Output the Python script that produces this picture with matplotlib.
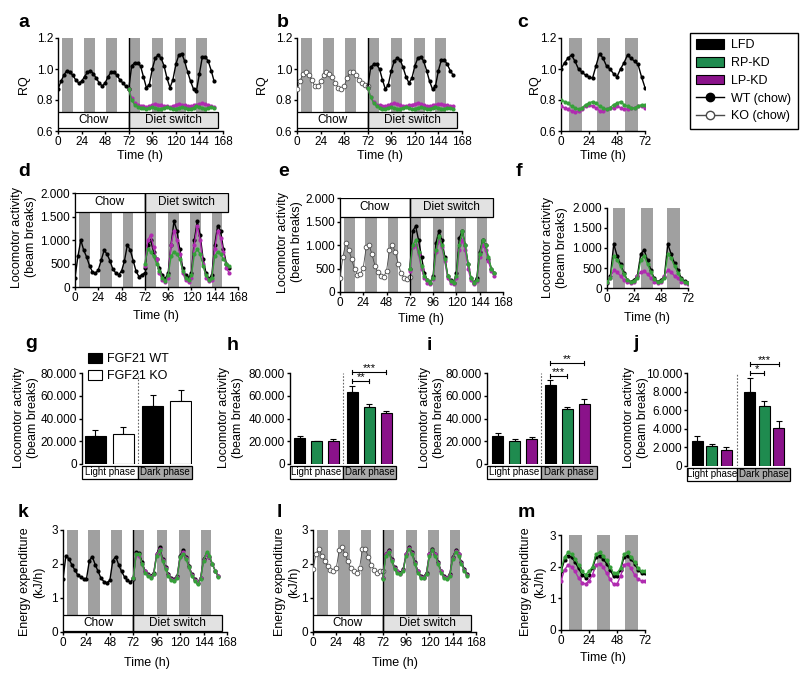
import matplotlib
matplotlib.use("Agg")
import matplotlib.pyplot as plt
from matplotlib.patches import Rectangle, Patch
from matplotlib.lines import Line2D
from matplotlib import font_manager as fm

plt.rcParams['font.family'] = ['Liberation Sans', 'DejaVu Sans']
plt.rcParams['font.size'] = 8.5
_names = {f.name for f in fm.fontManager.ttflist}
NARROW = 'Liberation Sans Narrow' if 'Liberation Sans Narrow' in _names else 'Liberation Sans'

# ------------------------------------------------------------------ data
t_chow = list(range(0, 73, 3))      # 0..72 h
t_diet = list(range(72, 160, 3))    # 72..159 h
t_72 = list(range(0, 73, 3))        # 0..72 h

dark168_start = [4, 26, 49, 72, 96, 119, 141]
dark168_end = [15, 38, 60, 83, 107, 130, 152]
dark72_start = [7, 31, 55]
dark72_end = [18, 42, 66]
darkf_start = [5, 30, 53]
darkf_end = [16, 41, 65]

rq_ticks = [0.6, 0.8, 1.0, 1.2]
rq_labels = ['0.6', '0.8', '1.0', '1.2']
loco_ticks = [0, 500, 1000, 1500, 2000]
loco_labels = ['0', '500', '1.000', '1.500', '2.000']
ee_ticks = [0, 1, 2, 3]
ee_labels = ['0', '1', '2', '3']
bar_ticks = [0, 20000, 40000, 60000, 80000]
bar_labels = ['0', '20.000', '40.000', '60.000', '80.000']
barj_ticks = [0, 2000, 4000, 6000, 8000, 10000]
barj_labels = ['0', '2.000', '4.000', '6.000', '8.000', '10.000']
time168_ticks = [0, 24, 48, 72, 96, 120, 144, 168]
time72_ticks = [0, 24, 48, 72]

# panel a (RQ, WT)
a_wt_chow = [0.87, 0.92, 0.96, 0.99, 0.98, 0.96, 0.93, 0.91, 0.92, 0.95, 0.98, 0.99, 0.97,
             0.94, 0.91, 0.89, 0.91, 0.95, 0.98, 0.98, 0.96, 0.93, 0.91, 0.89, 0.87]
a_lfd = [0.87, 1.02, 1.04, 1.04, 1.02, 0.95, 0.88, 0.90, 1.00, 1.07, 1.09, 1.07, 1.02, 0.94, 0.88,
         0.93, 1.03, 1.09, 1.10, 1.05, 0.98, 0.92, 0.87, 0.86, 0.97, 1.08, 1.08, 1.05, 0.99, 0.92]
a_rp = [0.87, 0.80, 0.77, 0.755, 0.75, 0.75, 0.745, 0.75, 0.755, 0.75, 0.745, 0.745, 0.75, 0.755, 0.75,
        0.745, 0.745, 0.75, 0.755, 0.75, 0.745, 0.745, 0.75, 0.76, 0.755, 0.75, 0.745, 0.75, 0.755, 0.75]
a_lp = [0.87, 0.81, 0.78, 0.765, 0.76, 0.76, 0.755, 0.76, 0.77, 0.775, 0.77, 0.765, 0.76, 0.76, 0.755,
        0.76, 0.77, 0.775, 0.77, 0.765, 0.76, 0.76, 0.765, 0.77, 0.775, 0.78, 0.775, 0.765, 0.76, 0.755]

# panel b (RQ, KO)
b_ko_chow = [0.87, 0.92, 0.97, 0.98, 0.96, 0.93, 0.89, 0.89, 0.92, 0.96, 0.98, 0.97, 0.95,
             0.91, 0.88, 0.87, 0.89, 0.94, 0.98, 0.98, 0.96, 0.93, 0.91, 0.90, 0.89]
b_lfd = [0.88, 1.01, 1.03, 1.03, 1.00, 0.93, 0.87, 0.90, 0.99, 1.05, 1.07, 1.06, 1.01, 0.95, 0.91,
         0.94, 1.02, 1.07, 1.08, 1.05, 0.99, 0.92, 0.87, 0.89, 0.99, 1.06, 1.06, 1.03, 0.99, 0.96]
b_rp = [0.88, 0.82, 0.78, 0.76, 0.75, 0.745, 0.745, 0.75, 0.755, 0.75, 0.745, 0.745, 0.75, 0.755, 0.75,
        0.745, 0.745, 0.75, 0.755, 0.75, 0.745, 0.745, 0.75, 0.755, 0.75, 0.745, 0.745, 0.75, 0.75, 0.745]
b_lp = [0.88, 0.82, 0.79, 0.77, 0.765, 0.76, 0.76, 0.765, 0.775, 0.78, 0.775, 0.765, 0.76, 0.76, 0.765,
        0.77, 0.775, 0.78, 0.775, 0.765, 0.76, 0.76, 0.765, 0.77, 0.775, 0.775, 0.77, 0.765, 0.76, 0.76]

# panel c (RQ, 72 h)
c_lfd = [1.00, 1.04, 1.07, 1.09, 1.05, 1.00, 0.98, 0.96, 0.95, 0.94, 1.02, 1.10, 1.07,
         1.02, 1.00, 0.97, 0.95, 1.00, 1.04, 1.09, 1.07, 1.05, 1.03, 0.95, 0.88]
c_rp = [0.80, 0.79, 0.78, 0.76, 0.75, 0.74, 0.75, 0.77, 0.78, 0.79, 0.78, 0.76, 0.75,
        0.74, 0.75, 0.77, 0.78, 0.79, 0.77, 0.76, 0.75, 0.75, 0.76, 0.77, 0.77]
c_lp = [0.76, 0.75, 0.74, 0.73, 0.72, 0.73, 0.74, 0.76, 0.77, 0.76, 0.75, 0.73, 0.73,
        0.74, 0.75, 0.75, 0.76, 0.75, 0.74, 0.74, 0.75, 0.75, 0.76, 0.76, 0.75]

# panel d (locomotor, WT)
d_wt_chow = [200, 650, 1000, 780, 640, 450, 320, 290, 360, 570, 780, 700, 560,
             380, 300, 260, 340, 560, 900, 780, 560, 330, 220, 260, 300]
d_lfd = [400, 900, 1000, 750, 600, 400, 250, 180, 300, 900, 1400, 1200, 800, 400, 250,
         200, 300, 1000, 1400, 1100, 600, 300, 180, 250, 900, 1300, 1200, 800, 500, 400]
d_rp = [500, 800, 750, 650, 500, 350, 200, 130, 250, 650, 750, 700, 600, 350, 200,
        150, 250, 700, 800, 700, 450, 250, 150, 200, 650, 750, 700, 600, 500, 450]
d_lp = [450, 1000, 1100, 850, 600, 300, 150, 100, 200, 900, 1200, 1000, 700, 300, 150,
        100, 200, 900, 1300, 1000, 500, 200, 120, 150, 800, 1200, 1050, 750, 400, 300]

# panel e (locomotor, KO)
e_ko_chow = [300, 750, 1050, 900, 700, 480, 370, 380, 520, 950, 1000, 800, 560,
             420, 330, 320, 450, 900, 1000, 850, 600, 400, 300, 280, 320]
e_lfd = [500, 1300, 1400, 1100, 750, 400, 250, 200, 350, 1050, 1300, 1100, 750, 350, 250,
         200, 400, 1150, 1300, 1000, 600, 300, 200, 300, 850, 1100, 1000, 700, 500, 400]
e_rp = [500, 1000, 1100, 850, 550, 350, 250, 200, 300, 900, 1200, 1000, 700, 350, 230,
        200, 350, 1000, 1300, 1000, 600, 300, 200, 250, 800, 1100, 1000, 750, 500, 400]
e_lp = [450, 950, 1000, 800, 500, 300, 200, 180, 280, 850, 1100, 950, 650, 300, 200,
        180, 300, 900, 1100, 900, 500, 250, 180, 230, 750, 1000, 900, 650, 450, 350]

# panel f (locomotor, 72 h)
f_lfd = [120, 300, 1100, 800, 600, 380, 200, 160, 200, 300, 850, 950, 700,
         450, 240, 160, 200, 280, 1100, 850, 620, 450, 240, 170, 130]
f_rp = [150, 250, 800, 700, 550, 350, 200, 150, 180, 250, 700, 800, 600,
        400, 220, 150, 180, 250, 850, 750, 550, 380, 220, 150, 130]
f_lp = [150, 250, 450, 400, 300, 200, 150, 120, 150, 300, 400, 420, 350,
        250, 150, 120, 150, 300, 450, 400, 300, 250, 150, 120, 110]

# panel g-j (bars: light phase, dark phase)
g_values = [24900, 26700, 50700, 55100]
g_errors = [4700, 6200, 9700, 9800]
h_values = [23100, 19800, 20000, 63400, 50400, 44400]
h_errors = [1400, 800, 2000, 5300, 2000, 2100]
i_values = [24300, 19800, 21900, 69300, 48000, 53000]
i_errors = [3200, 2000, 1600, 4500, 2000, 4500]
j_values = [2720, 2150, 1720, 8000, 6450, 4050]
j_errors = [500, 250, 280, 1500, 570, 820]

# panel k (EE, WT)
k_wt_chow = [1.55, 2.25, 2.15, 1.98, 1.83, 1.68, 1.62, 1.57, 1.55, 2.10, 2.22, 1.98, 1.78,
             1.58, 1.48, 1.45, 1.52, 2.10, 2.22, 1.98, 1.78, 1.62, 1.52, 1.47, 1.55]
k_lfd = [1.60, 2.35, 2.33, 2.05, 1.80, 1.70, 1.65, 1.75, 2.30, 2.50, 2.15, 1.90, 1.70, 1.58, 1.55,
         1.65, 2.25, 2.40, 2.20, 1.95, 1.70, 1.55, 1.45, 1.60, 2.15, 2.30, 2.20, 2.00, 1.80, 1.65]
k_rp = [1.58, 2.30, 2.30, 2.00, 1.75, 1.65, 1.60, 1.70, 2.25, 2.40, 2.10, 1.85, 1.65, 1.52, 1.50,
        1.60, 2.20, 2.30, 2.15, 1.90, 1.65, 1.50, 1.40, 1.55, 2.10, 2.35, 2.25, 2.00, 1.78, 1.62]
k_lp = [1.60, 2.30, 2.25, 2.00, 1.78, 1.68, 1.62, 1.72, 2.28, 2.45, 2.12, 1.88, 1.68, 1.55, 1.52,
        1.62, 2.22, 2.35, 2.18, 1.92, 1.68, 1.52, 1.45, 1.58, 2.12, 2.30, 2.22, 2.00, 1.80, 1.65]

# panel l (EE, KO)
l_ko_chow = [1.85, 2.30, 2.45, 2.25, 2.08, 1.93, 1.83, 1.78, 1.88, 2.40, 2.50, 2.28, 2.08,
             1.88, 1.78, 1.73, 1.88, 2.45, 2.45, 2.20, 1.98, 1.83, 1.73, 1.78, 1.80]
l_lfd = [1.60, 2.30, 2.40, 2.15, 1.90, 1.80, 1.75, 1.85, 2.30, 2.50, 2.35, 2.05, 1.80, 1.65, 1.62,
         1.75, 2.30, 2.45, 2.30, 2.05, 1.80, 1.65, 1.60, 1.70, 2.20, 2.40, 2.30, 2.05, 1.85, 1.70]
l_rp = [1.55, 2.25, 2.35, 2.10, 1.85, 1.75, 1.70, 1.80, 2.25, 2.45, 2.30, 2.00, 1.75, 1.60, 1.58,
        1.70, 2.25, 2.40, 2.25, 2.00, 1.75, 1.60, 1.55, 1.65, 2.15, 2.35, 2.25, 2.00, 1.80, 1.65]
l_lp = [1.58, 2.28, 2.38, 2.12, 1.88, 1.78, 1.72, 1.82, 2.28, 2.48, 2.32, 2.02, 1.78, 1.62, 1.60,
        1.72, 2.28, 2.42, 2.28, 2.02, 1.78, 1.62, 1.58, 1.68, 2.18, 2.38, 2.28, 2.02, 1.82, 1.68]

# panel m (EE, 72 h)
m_lfd = [1.85, 2.20, 2.35, 2.30, 2.15, 1.95, 1.75, 1.65, 1.75, 1.95, 2.30, 2.35, 2.25,
         2.10, 1.90, 1.70, 1.70, 1.90, 2.30, 2.35, 2.25, 2.10, 1.90, 1.80, 1.80]
m_rp = [1.90, 2.30, 2.45, 2.40, 2.25, 2.05, 1.85, 1.75, 1.85, 2.00, 2.40, 2.45, 2.35,
        2.20, 2.00, 1.80, 1.80, 1.95, 2.40, 2.45, 2.30, 2.15, 1.95, 1.85, 1.85]
m_lp = [1.55, 1.90, 2.05, 2.00, 1.85, 1.65, 1.50, 1.45, 1.55, 1.75, 2.05, 2.10, 2.00,
        1.80, 1.60, 1.45, 1.45, 1.70, 2.05, 2.10, 1.95, 1.75, 1.60, 1.55, 1.55]

# ------------------------------------------------------------------ style
W, H = 800, 679
fig = plt.figure(figsize=(W / 100, H / 100), dpi=100)

GRAY = '#a0a0a0'
BLACK = '#000000'
G_LINE = '#36a03a'
P_LINE = '#b02cb0'
G_BAR = '#1f8b4f'
P_BAR = '#8a128a'
KO_EDGE = '#4a4a4a'
BOX_GRAY = '#e2e2e2'
DARK_BOX = '#a8a8a8'
TICK_FS = 8.5
LAB_FS = 9


def add_ax(l, t, r, b):
    ax = fig.add_axes([l / W, 1 - b / H, (r - l) / W, (b - t) / H])
    for s in ('top', 'right'):
        ax.spines[s].set_visible(False)
    for s in ('left', 'bottom'):
        ax.spines[s].set_linewidth(1.0)
    ax.tick_params(direction='out', length=2.5, width=1.0, labelsize=TICK_FS, pad=1.0)
    ax.patch.set_alpha(0)
    return ax


def ftext(x, y, s, **kw):
    fig.text(x / W, 1 - y / H, s, **kw)


def time_panel(box, xmax, xticks, ylim, yticks, ylabels):
    ax = add_ax(*box)
    ax.set_xlim(0, xmax)
    ax.set_ylim(*ylim)
    ax.set_xticks(xticks)
    ax.set_yticks(yticks)
    ax.set_yticklabels(ylabels)
    return ax


def dark_bars(ax, starts, ends, lo, hi):
    ax.bar(starts, [hi - lo] * len(starts), width=[e - s for s, e in zip(starts, ends)],
           bottom=lo, align='edge', color=GRAY, lw=0, zorder=0)


def phase_boxes(ax, lo, hi, xend):
    ax.add_patch(Rectangle((0, lo), 72, hi - lo, fc='white', ec='black', lw=0.9, zorder=4))
    ax.add_patch(Rectangle((72, lo), xend - 72, hi - lo, fc=BOX_GRAY, ec='black', lw=0.9, zorder=4))
    ax.text(36, (lo + hi) / 2, 'Chow', ha='center', va='center', fontsize=8.5, zorder=5)
    ax.text((72 + xend) / 2, (lo + hi) / 2, 'Diet switch', ha='center', va='center',
            fontsize=8.5, zorder=5)
    ax.axvline(72, color='black', lw=1.0, zorder=4)


def filled(ax, t, y, color, z=3, ms=3.0):
    ax.plot(t, y, '-o', color=color, lw=1.0, ms=ms, mew=0, zorder=z)


def hollow(ax, t, y, z=3):
    ax.plot(t, y, '-o', color=KO_EDGE, lw=0.6, ms=3.4, mfc='white', mec=KO_EDGE, mew=0.6, zorder=z)


def bar_panel(box, pos, values, errors, colors, ylim, yticks, ylabels, xlim, width, divider):
    ax = add_ax(*box)
    ax.spines['bottom'].set_visible(False)
    ax.set_xticks([])
    ax.set_xlim(*xlim)
    ax.set_ylim(*ylim)
    ax.set_yticks(yticks)
    ax.set_yticklabels(ylabels)
    ax.errorbar(pos, values, yerr=[[0] * len(values), errors], fmt='none', ecolor='black',
                elinewidth=0.8, capsize=2.5, capthick=0.8, zorder=2)
    ax.bar(pos, values, width=width, color=colors, edgecolor='black', lw=0.8, zorder=3)
    ax.plot([divider, divider], [ylim[0], ylim[1]], color='#666666', lw=0.8,
            ls=(0, (1.5, 1.5)), zorder=1)
    tr = ax.get_xaxis_transform()
    y0, hh = -0.16, 0.14
    ax.add_patch(Rectangle((xlim[0], y0), divider - xlim[0], hh, transform=tr, fc='white',
                           ec='black', lw=0.9, clip_on=False))
    ax.add_patch(Rectangle((divider, y0), xlim[1] - divider, hh, transform=tr, fc=DARK_BOX,
                           ec='black', lw=0.9, clip_on=False))
    ax.text((xlim[0] + divider) / 2, y0 + hh / 2, 'Light phase', transform=tr, ha='center',
            va='center', fontsize=7, family=[NARROW, 'DejaVu Sans'])
    ax.text((divider + xlim[1]) / 2, y0 + hh / 2, 'Dark phase', transform=tr, ha='center',
            va='center', fontsize=7, family=[NARROW, 'DejaVu Sans'])
    return ax


def bracket(ax, x1, x2, y, text, box_h):
    span = ax.get_ylim()[1] - ax.get_ylim()[0]
    tk = 2.0 * span / box_h
    ax.plot([x1, x2], [y, y], color='black', lw=0.8, clip_on=False)
    ax.plot([x1, x1], [y - tk, y + tk], color='black', lw=0.8, clip_on=False)
    ax.plot([x2, x2], [y - tk, y + tk], color='black', lw=0.8, clip_on=False)
    ax.text((x1 + x2) / 2, y - 0.5 * tk, text, ha='center', va='bottom', fontsize=8, clip_on=False)


# ------------------------------------------------------------------ row 1: RQ
ax = time_panel((58, 38, 223, 131), 168, time168_ticks, (0.6, 1.2), rq_ticks, rq_labels)
dark_bars(ax, dark168_start, dark168_end, 0.72, 1.2)
phase_boxes(ax, 0.62, 0.72, 163)
filled(ax, t_chow, a_wt_chow, BLACK)
filled(ax, t_diet, a_lfd, BLACK)
filled(ax, t_diet, a_lp, P_LINE, 4)
filled(ax, t_diet, a_rp, G_LINE, 5)

ax = time_panel((297, 38, 462, 131), 168, time168_ticks, (0.6, 1.2), rq_ticks, rq_labels)
dark_bars(ax, dark168_start, dark168_end, 0.72, 1.2)
phase_boxes(ax, 0.62, 0.72, 163)
hollow(ax, t_chow, b_ko_chow)
filled(ax, t_diet, b_lfd, BLACK)
filled(ax, t_diet, b_lp, P_LINE, 4)
filled(ax, t_diet, b_rp, G_LINE, 5)

ax = time_panel((561, 38, 645, 131), 72, time72_ticks, (0.6, 1.2), rq_ticks, rq_labels)
dark_bars(ax, dark72_start, dark72_end, 0.6, 1.2)
filled(ax, t_72, c_lfd, BLACK)
filled(ax, t_72, c_lp, P_LINE, 4)
filled(ax, t_72, c_rp, G_LINE, 5)

handles = [Patch(fc=BLACK, ec='black', lw=0.8), Patch(fc=G_BAR, ec='black', lw=0.8),
           Patch(fc=P_BAR, ec='black', lw=0.8),
           Line2D([], [], color='black', marker='o', ms=6, lw=1),
           Line2D([], [], color=KO_EDGE, marker='o', ms=6, mfc='white', mec=KO_EDGE, lw=1)]
leg = fig.legend(handles, ['LFD', 'RP-KD', 'LP-KD', 'WT (chow)', 'KO (chow)'],
                 loc='upper left', bbox_to_anchor=(690 / W, 1 - 33 / H), borderaxespad=0,
                 frameon=True, fancybox=False, edgecolor='black', framealpha=1,
                 fontsize=9, handlelength=2.2, handleheight=0.8, handletextpad=0.6,
                 labelspacing=0.45, borderpad=0.5)
leg.get_frame().set_linewidth(1.0)

# ------------------------------------------------------------------ row 2: locomotor
ax = time_panel((75, 193, 238, 287), 168, time168_ticks, (0, 2000), loco_ticks, loco_labels)
dark_bars(ax, dark168_start, dark168_end, 0, 1600)
phase_boxes(ax, 1600, 2000, 158)
filled(ax, t_chow, d_wt_chow, BLACK)
filled(ax, t_diet, d_lfd, BLACK)
filled(ax, t_diet, d_lp, P_LINE, 4)
filled(ax, t_diet, d_rp, G_LINE, 5)

ax = time_panel((340, 198, 503, 292), 168, time168_ticks, (0, 2000), loco_ticks, loco_labels)
dark_bars(ax, dark168_start, dark168_end, 0, 1600)
phase_boxes(ax, 1600, 2000, 158)
hollow(ax, t_chow, e_ko_chow)
filled(ax, t_diet, e_lfd, BLACK)
filled(ax, t_diet, e_lp, P_LINE, 4)
filled(ax, t_diet, e_rp, G_LINE, 5)

ax = time_panel((607, 208, 688, 288), 72, time72_ticks, (0, 2000), loco_ticks, loco_labels)
dark_bars(ax, darkf_start, darkf_end, 0, 2000)
filled(ax, t_72, f_lfd, BLACK)
filled(ax, t_72, f_lp, P_LINE, 4)
filled(ax, t_72, f_rp, G_LINE, 5)

# ------------------------------------------------------------------ row 3: bars
three = [BLACK, G_BAR, P_BAR, BLACK, G_BAR, P_BAR]
ax = bar_panel((82, 373, 192, 464), [0, 1, 2.05, 3.05], g_values, g_errors,
               [BLACK, 'white', BLACK, 'white'], (0, 80000), bar_ticks, bar_labels,
               (-0.48, 3.45), 0.75, 1.52)
fig.legend([Patch(fc=BLACK, ec='black', lw=0.8), Patch(fc='white', ec='black', lw=0.8)],
           ['FGF21 WT', 'FGF21 KO'], loc='upper left', bbox_to_anchor=(88 / W, 1 - 353 / H),
           borderaxespad=0, frameon=False, fontsize=9, handlelength=1.1, handleheight=0.85,
           handletextpad=0.4, labelspacing=0.35, borderpad=0)

ax = bar_panel((290, 373, 396, 464), [0, 1, 2, 3.1, 4.1, 5.1], h_values, h_errors, three,
               (0, 80000), bar_ticks, bar_labels, (-0.56, 5.68), 0.65, 2.55)
bracket(ax, 3.1, 5.1, 81000, '***', 91)
bracket(ax, 3.1, 4.1, 73000, '**', 91)

ax = bar_panel((487, 373, 597, 464), [0, 1, 2, 3.1, 4.1, 5.1], i_values, i_errors, three,
               (0, 80000), bar_ticks, bar_labels, (-0.62, 5.85), 0.65, 2.55)
bracket(ax, 3.1, 5.1, 88800, '**', 91)
bracket(ax, 3.1, 4.1, 77400, '***', 91)

ax = bar_panel((687, 373, 790, 466), [0, 1, 2, 3.6, 4.6, 5.6], j_values, j_errors, three,
               (0, 10000), barj_ticks, barj_labels, (-0.72, 6.38), 0.76, 2.75)
bracket(ax, 3.6, 5.6, 10970, '***', 93)
bracket(ax, 3.6, 4.6, 10000, '*', 93)

# ------------------------------------------------------------------ row 4: energy expenditure
ax = time_panel((63, 530, 227, 632), 168, time168_ticks, (0, 3), ee_ticks, ee_labels)
dark_bars(ax, dark168_start, dark168_end, 0.5, 3)
phase_boxes(ax, 0.03, 0.5, 163)
filled(ax, t_chow, k_wt_chow, BLACK)
filled(ax, t_diet, k_lfd, BLACK)
filled(ax, t_diet, k_lp, P_LINE, 4)
filled(ax, t_diet, k_rp, G_LINE, 5)

ax = time_panel((313, 530, 476, 632), 168, time168_ticks, (0, 3), ee_ticks, ee_labels)
dark_bars(ax, dark168_start, dark168_end, 0.5, 3)
phase_boxes(ax, 0.03, 0.5, 163)
hollow(ax, t_chow, l_ko_chow)
filled(ax, t_diet, l_lfd, BLACK)
filled(ax, t_diet, l_lp, P_LINE, 4)
filled(ax, t_diet, l_rp, G_LINE, 5)

ax = time_panel((561, 535, 645, 630), 72, time72_ticks, (0, 3), ee_ticks, ee_labels)
dark_bars(ax, dark72_start, dark72_end, 0, 3)
filled(ax, t_72, m_lfd, BLACK)
filled(ax, t_72, m_lp, P_LINE, 4)
filled(ax, t_72, m_rp, G_LINE, 5)

# ------------------------------------------------------------------ labels
for (x, y, s) in [(18, 27, 'a'), (277, 27, 'b'), (517, 27, 'c'),
                  (18, 176, 'd'), (278, 176, 'e'), (516, 176, 'f'),
                  (25, 348, 'g'), (227, 350, 'h'), (427, 350, 'i'), (633, 348, 'j'),
                  (18, 517, 'k'), (277, 517, 'l'), (518, 517, 'm')]:
    ftext(x, y, s, fontsize=14, fontweight='bold', ha='left', va='baseline')

for (x, y) in [(140, 156), (380, 156), (603, 156), (156, 316), (421, 319), (647, 318),
               (147, 663), (395, 663), (603, 658)]:
    ftext(x, y, 'Time (h)', fontsize=LAB_FS, ha='center', va='center')

for (x, y) in [(24, 85), (262, 85), (535, 85)]:
    ftext(x, y, 'RQ', fontsize=LAB_FS, ha='center', va='center', rotation=90)

loco = 'Locomotor activity\n(beam breaks)'
for (x, y) in [(24, 237), (290, 242), (555, 248), (26, 418), (231, 418), (432, 418), (636, 418)]:
    ftext(x, y, loco, fontsize=LAB_FS, ha='center', va='center', rotation=90,
          multialignment='center')

ee = 'Energy expenditure\n(kJ/h)'
for (x, y) in [(32, 582), (287, 582), (533, 582)]:
    ftext(x, y, ee, fontsize=LAB_FS, ha='center', va='center', rotation=90,
          multialignment='center')

fig.savefig('out.png', dpi=100)
